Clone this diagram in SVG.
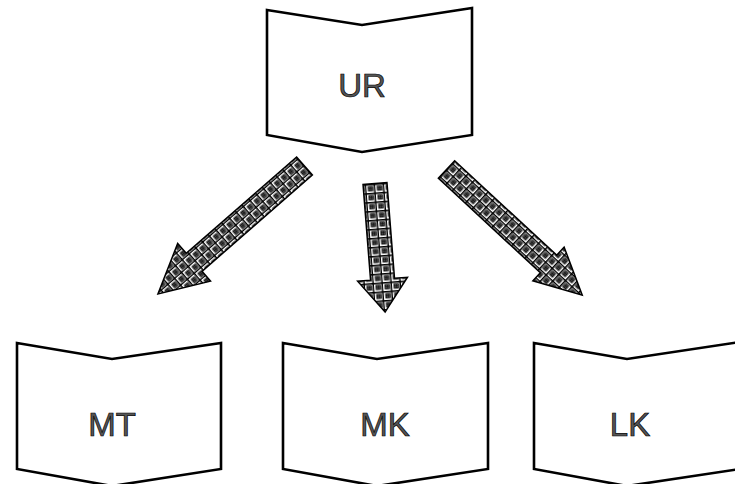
<svg xmlns="http://www.w3.org/2000/svg" width="735" height="484" viewBox="0 0 735 484">
  <defs>
    <!-- tiled texture used inside the block arrows -->
    <pattern id="tile" patternUnits="userSpaceOnUse" width="9" height="9">
      <rect width="9" height="9" fill="#fff"/>
      <path d="M0 0.8H9M0.8 0V9" stroke="#000" stroke-width="1.6"/>
      <path d="M2.9 2.9h4v4h-4z M4.9 2.9v4 M2.9 4.9h4" fill="none" stroke="#000" stroke-width="1.1"/>
    </pattern>
    <style>
      .box { fill: #fff; stroke: #000; stroke-width: 2.6; stroke-linejoin: miter; }
      .lbl { font-family: "Liberation Sans", Arial, sans-serif; font-size: 33px; text-anchor: middle; fill: #555; stroke: #000; stroke-width: 0.7; }
      .arrow { fill: url(#tile); stroke: #000; stroke-width: 1.5; stroke-linejoin: miter; }
    </style>
  </defs>

  <g id="UR">
    <polygon class="box" points="267,10 362,25 472,8 472,135 362,152 267,135"/>
    <text class="lbl" x="362" y="97">UR</text>
  </g>
  <g id="MT">
    <polygon class="box" points="17,343 112,359 221,343 221,469 112,486 17,469"/>
    <text class="lbl" x="112" y="436">MT</text>
  </g>
  <g id="MK">
    <polygon class="box" points="283,343 377,359 488,343 488,469 377,486 283,469"/>
    <text class="lbl" x="385" y="436">MK</text>
  </g>
  <g id="LK">
    <polygon class="box" points="534,343 627,359 740,342 740,469 627,486 534,469"/>
    <text class="lbl" x="630" y="436">LK</text>
  </g>

  <g id="connectors">
    <polygon class="arrow" transform="translate(304.5,166) rotate(138.9)" points="0,-12 146.5,-12 146.5,-25 194.5,0 146.5,25 146.5,12 0,12"/>
    <polygon class="arrow" transform="translate(375,183.5) rotate(85.5)" points="0,-12 96,-12 96,-25 129,0 96,25 96,12 0,12"/>
    <polygon class="arrow" transform="translate(446.5,169.5) rotate(42.8)" points="0,-12 139,-12 139,-23 185,0 139,23 139,12 0,12"/>
  </g>
</svg>
